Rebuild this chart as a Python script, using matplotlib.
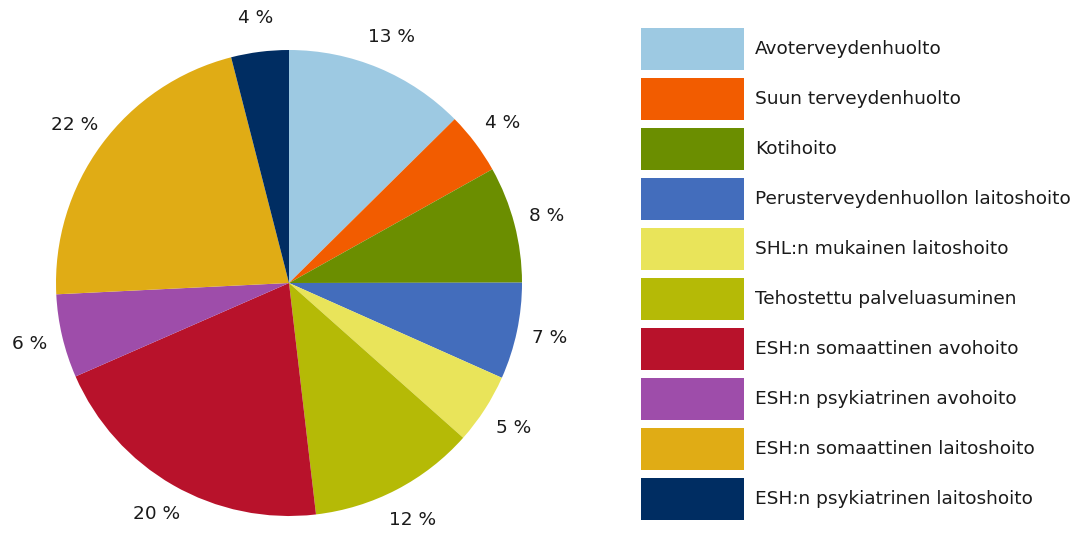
import matplotlib
matplotlib.use("Agg")
import matplotlib.pyplot as plt
from matplotlib.patches import Patch

categories = [
    "Avoterveydenhuolto",
    "Suun terveydenhuolto",
    "Kotihoito",
    "Perusterveydenhuollon laitoshoito",
    "SHL:n mukainen laitoshoito",
    "Tehostettu palveluasuminen",
    "ESH:n somaattinen avohoito",
    "ESH:n psykiatrinen avohoito",
    "ESH:n somaattinen laitoshoito",
    "ESH:n psykiatrinen laitoshoito",
]
values = [12.6, 4.3, 8.1, 6.7, 4.9, 11.6, 20.3, 5.8, 21.8, 4.0]
colors = ["#9DC9E2", "#F25C00", "#6B8E00", "#436DBC", "#E9E45A",
          "#B5BA06", "#B8122B", "#9E4DAA", "#E0AC15", "#002D62"]

W, H = 1087, 534
fig = plt.figure(figsize=(W / 100, H / 100), dpi=100)
plt.rcParams['font.family'] = ['DejaVu Sans']
fs = 13.3

cx, cy, R = 289, 283, 233
ax = fig.add_axes([(cx - R) / W, (H - cy - R) / H, 2 * R / W, 2 * R / H])
wedges, texts, autotexts = ax.pie(
    values, colors=colors, startangle=90, counterclock=False,
    autopct=lambda p: f"{p:.0f} %", pctdistance=1.145,
    wedgeprops=dict(linewidth=0), textprops=dict(fontsize=fs, color="#1a1a1a"),
)
ax.set_xlim(-1, 1)
ax.set_ylim(-1, 1)
ax.set_aspect("equal")
ax.axis("off")

handles = [Patch(facecolor=c, edgecolor="none") for c in colors]
em = fs * 100 / 72
box_h = 42 / em
hh = (box_h - 0.245) / 0.65
fig.legend(handles, categories, loc="upper left",
           bbox_to_anchor=(641 / W, 1 - 28 / H), bbox_transform=fig.transFigure,
           frameon=False, borderpad=0, borderaxespad=0,
           handlelength=103 / em, handleheight=hh,
           labelspacing=8 / em, handletextpad=11 / em,
           prop=dict(size=fs))
for t in fig.legends[0].get_texts():
    t.set_color("#1a1a1a")

fig.savefig("out.png", dpi=100)
